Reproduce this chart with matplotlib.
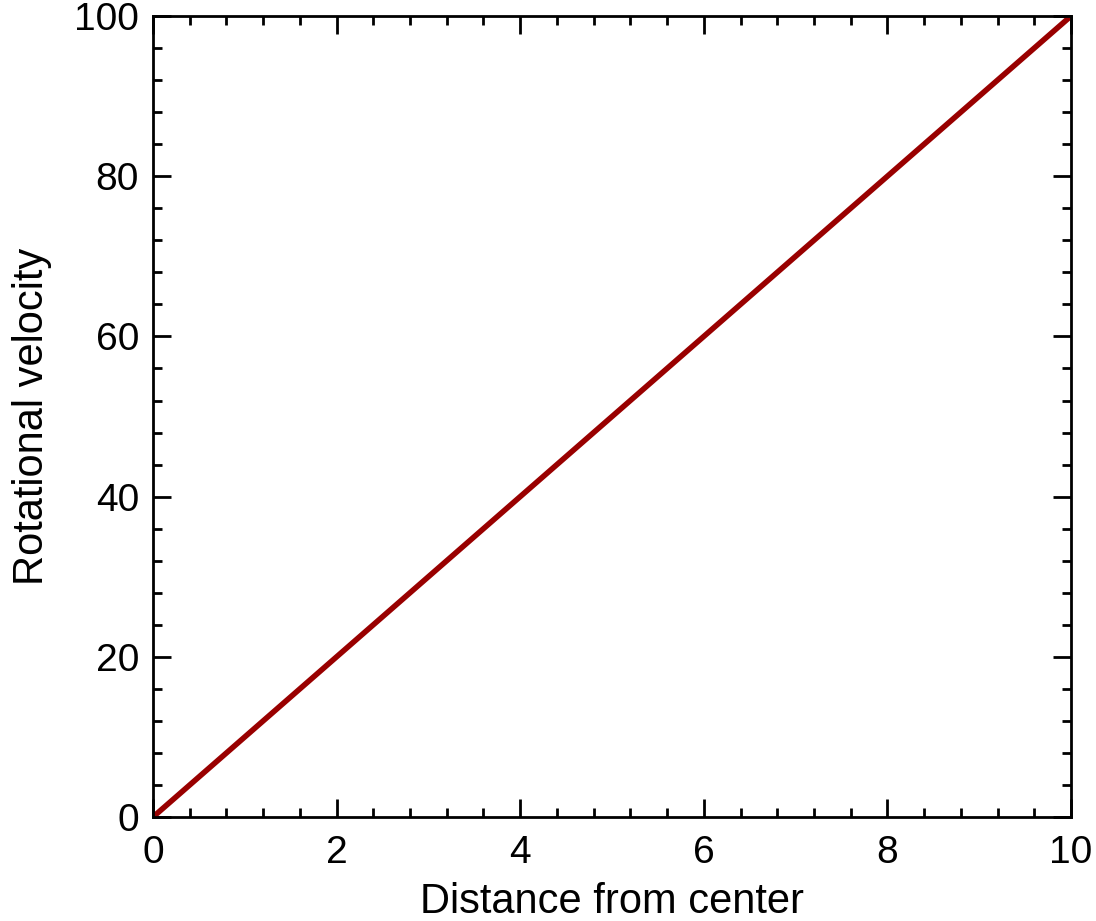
import matplotlib
matplotlib.use("Agg")
import matplotlib.pyplot as plt
from matplotlib.ticker import MultipleLocator

# data
distance = [0, 1, 2, 3, 4, 5, 6, 7, 8, 9, 10]
velocity = [0, 10, 20, 30, 40, 50, 60, 70, 80, 90, 100]

plt.rcParams['font.family'] = ['Liberation Sans', 'DejaVu Sans']

fig = plt.figure(figsize=(10.96, 9.21), dpi=100)
ax = fig.add_axes([0.1396, 0.1129, 0.9772 - 0.1396, 0.9826 - 0.1129])

ax.plot(distance, velocity, color='#990000', linewidth=4, solid_capstyle='butt')

ax.set_xlim(0, 10)
ax.set_ylim(0, 100)
ax.xaxis.set_major_locator(MultipleLocator(2))
ax.xaxis.set_minor_locator(MultipleLocator(0.4))
ax.yaxis.set_major_locator(MultipleLocator(20))
ax.yaxis.set_minor_locator(MultipleLocator(4))
ax.tick_params(which='both', direction='in', top=True, right=True, width=2)
ax.tick_params(which='major', length=13, labelsize=28, pad=10)
ax.tick_params(axis='x', which='major', pad=13)
ax.tick_params(which='minor', length=6.5)
for s in ax.spines.values():
    s.set_linewidth(2)

ax.set_xlabel('Distance from center', fontsize=30, labelpad=8)
ax.set_ylabel('Rotational velocity', fontsize=30, labelpad=16)

fig.savefig('out.png', dpi=100)
